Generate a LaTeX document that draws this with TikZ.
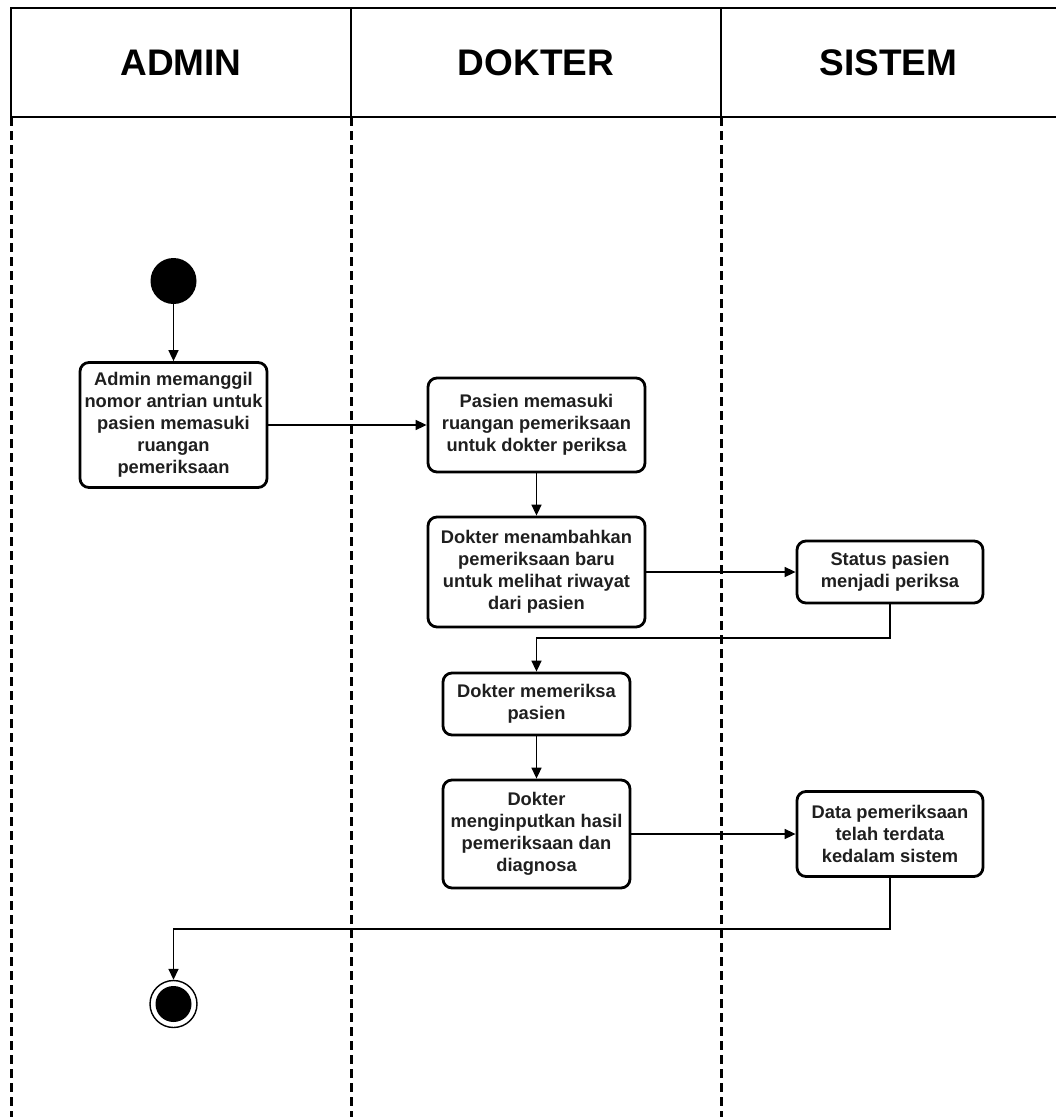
\documentclass[tikz,border=0pt]{standalone}
\usepackage{fontspec}
\setmainfont{Liberation Sans}
\usetikzlibrary{arrows.meta}

\begin{document}
\begin{tikzpicture}[x=1pt,y=-1pt,
  lane/.style={line width=3pt, dash pattern=on 9pt off 5pt},
  header/.style={line width=2.8pt},
  title/.style={font=\fontsize{37}{44}\selectfont\bfseries},
  act/.style={draw, line width=2.8pt, rounded corners=9pt, inner sep=2pt,
    align=center, font=\fontsize{18.3}{22}\selectfont\bfseries, text=black!88},
  flow/.style={line width=1.6pt, -{Triangle[length=11pt,width=10pt]}},
  startnode/.style={circle, fill=black, minimum size=46pt, inner sep=0pt},
  endnode/.style={circle, draw, line width=1.4pt, minimum size=47pt, inner sep=0pt,
    path picture={\fill (path picture bounding box.center) circle (18pt);}}
]
\useasboundingbox (0,0) rectangle (1056,1117);
\clip (0,0) rectangle (1056,1117);

% swimlane headers
\draw[header] (11,8) rectangle (1070,117);
\draw[header] (351,8) -- (351,117);
\draw[header] (721,8) -- (721,117);
\node[title] (hAdmin)  at (181,63)   {ADMIN};
\node[title] (hDokter) at (536,63)   {DOKTER};
\node[title] (hSistem) at (888.5,63) {SISTEM};

% lane separators
\draw[lane] (11,117) -- (11,1117);
\draw[lane] (351,117) -- (351,1117);
\draw[lane] (721,117) -- (721,1117);

% activities
\node[startnode] (start) at (173.5,281) {};

\node[act, minimum width=187pt, minimum height=125pt] (b1) at (173.5,425)
  {Admin memanggil\\nomor antrian untuk\\pasien memasuki\\ruangan\\pemeriksaan};
\node[act, minimum width=217pt, minimum height=94pt] (b2) at (536.5,425)
  {Pasien memasuki\\ruangan pemeriksaan\\untuk dokter periksa};
\node[act, minimum width=217pt, minimum height=110pt] (b3) at (536.5,572)
  {Dokter menambahkan\\pemeriksaan baru\\untuk melihat riwayat\\dari pasien};
\node[act, minimum width=186pt, minimum height=62pt] (b4) at (890,572)
  {Status pasien\\menjadi periksa};
\node[act, minimum width=187pt, minimum height=62pt] (b5) at (536.5,704)
  {Dokter memeriksa\\pasien};
\node[act, minimum width=187pt, minimum height=108pt] (b6) at (536.5,834)
  {Dokter\\menginputkan hasil\\pemeriksaan dan\\diagnosa};
\node[act, minimum width=186pt, minimum height=85pt] (b7) at (890,834)
  {Data pemeriksaan\\telah terdata\\kedalam sistem};

\node[endnode] (stop) at (173.5,1004) {};

% bends of the return connectors
\coordinate (k1) at (890,638);
\coordinate (k2) at (890,929);

% control flow
\draw[flow] (start) -- (b1);
\draw[flow] (b1.east) -- (b2.west);
\draw[flow] (b2) -- (b3);
\draw[flow] (b3.east) -- (b4.west);
\draw[flow] (b4.south) -- (k1) -| (b5.north);
\draw[flow] (b5) -- (b6);
\draw[flow] (b6.east) -- (b7.west);
\draw[flow] (b7.south) -- (k2) -| (stop.north);
\end{tikzpicture}
\end{document}
